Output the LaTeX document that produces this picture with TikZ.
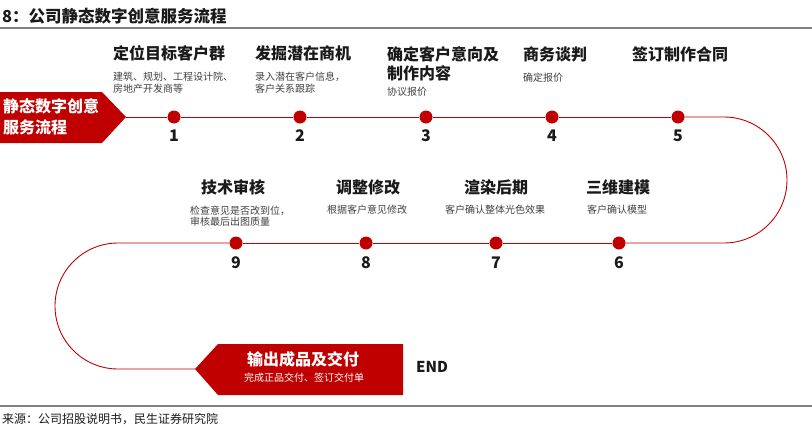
\documentclass[tikz,border=0pt]{standalone}
\usepackage{fontspec}
\setmainfont{Noto Sans CJK SC}
\definecolor{brand}{HTML}{C00000}
\definecolor{ink}{HTML}{1A1A1A}
\definecolor{subink}{HTML}{404040}
\definecolor{rule}{HTML}{808080}
\tikzset{
  dot/.style={circle,fill=brand,minimum size=13pt,inner sep=0pt},
  num/.style={font=\fontsize{16}{18}\selectfont\bfseries,text=ink,inner sep=0pt},
  ttl/.style={font=\fontsize{16}{19}\selectfont\bfseries,text=ink,inner sep=0pt,align=left},
  sub/.style={font=\fontsize{10}{11.5}\selectfont,text=subink,inner sep=0pt,align=left},
  flow/.style={draw=brand,line width=0.9pt},
  banner/.style={fill=brand,draw=none},
}
\begin{document}
\begin{tikzpicture}[x=1pt,y=-1pt]
\useasboundingbox (0,0) rectangle (812,429);
% header
\node[anchor=west,inner sep=0pt,font=\fontsize{16.5}{19}\selectfont\bfseries,text=ink] (title) at (2,16) {8：公司静态数字创意服务流程};
\draw[rule,line width=1.4pt] (0,28) -- (812,28);
% start banner
\fill[banner] (0,92) -- (102,92) -- (126,117) -- (102,143) -- (0,143) -- cycle;
\coordinate (tip1) at (126,117);
\node[anchor=west,inner sep=0pt,align=left,text=white,font=\fontsize{16}{21}\selectfont\bfseries] (start) at (3,117) {静态数字创意\\服务流程};
% end banner
\fill[banner] (195,369) -- (218,344) -- (403,344) -- (403,395) -- (218,395) -- cycle;
\coordinate (tip2) at (195,369);
\node[inner sep=0pt,text=white,font=\fontsize{16}{19}\selectfont\bfseries] (fin) at (303,359) {输出成品及交付};
\node[inner sep=0pt,text=white,font=\fontsize{10}{12}\selectfont] (finsub) at (304,378) {完成正品交付、签订交付单};
\node[anchor=west,inner sep=0pt,font=\fontsize{15}{18}\selectfont\bfseries,text=ink] (endtxt) at (416,367) {END};
% dots
\node[dot] (d1) at (174,117) {};
\node[dot] (d2) at (300,117) {};
\node[dot] (d3) at (426,117) {};
\node[dot] (d4) at (552,117) {};
\node[dot] (d5) at (678,117) {};
\node[dot] (d6) at (619,243) {};
\node[dot] (d7) at (496,243) {};
\node[dot] (d8) at (366,243) {};
\node[dot] (d9) at (236,243) {};
% numbers
\foreach \i/\x in {1/174,2/300,3/426,4/552,5/678} \node[num] (n\i) at (\x,136) {\i};
\foreach \i/\x in {6/619,7/496,8/366,9/236} \node[num] (n\i) at (\x,263) {\i};
% connectors
\draw[flow] (tip1) -- (d1.west);
\draw[flow] (d1.east) -- (d2.west);
\draw[flow] (d2.east) -- (d3.west);
\draw[flow] (d3.east) -- (d4.west);
\draw[flow] (d4.east) -- (d5.west);
\draw[flow] (d5.east) -- (724,117) arc[start angle=90,end angle=-90,radius=63pt] -- (d6.east);
\draw[flow] (d6.west) -- (d7.east);
\draw[flow] (d7.west) -- (d8.east);
\draw[flow] (d8.west) -- (d9.east);
\draw[flow] (d9.west) -- (118,243) arc[start angle=90,end angle=270,radius=63pt] -- (tip2);
% top row texts
\node[ttl,anchor=west] (t1) at (113,53) {定位目标客户群};
\node[sub,anchor=west] (s1) at (113,82.5) {建筑、规划、工程设计院、\\房地产开发商等};
\node[ttl,anchor=west] (t2) at (255,53) {发掘潜在商机};
\node[sub,anchor=west] (s2) at (255,82.5) {录入潜在客户信息，\\客户关系跟踪};
\node[ttl,anchor=west] (t3) at (387,63.5) {确定客户意向及\\制作内容};
\node[sub,anchor=west] (s3) at (387,92) {协议报价};
\node[ttl,anchor=west] (t4) at (523,54) {商务谈判};
\node[sub,anchor=west] (s4) at (523,78) {确定报价};
\node[ttl,anchor=west] (t5) at (632,54) {签订制作合同};
% bottom row texts
\node[ttl] (t9) at (233,187) {技术审核};
\node[sub] (s9) at (240,216) {检查意见是否改到位，\\审核最后出图质量};
\node[ttl] (t8) at (368,187) {调整修改};
\node[sub] (s8) at (367,210) {根据客户意见修改};
\node[ttl] (t7) at (496,187) {渲染后期};
\node[sub] (s7) at (495,210) {客户确认整体光色效果};
\node[ttl] (t6) at (618,187) {三维建模};
\node[sub] (s6) at (617,210) {客户确认模型};
% footer
\draw[rule,line width=1.4pt] (0,406) -- (812,406);
\node[anchor=west,inner sep=0pt,font=\fontsize{12}{14}\selectfont,text=ink] (src) at (2,419) {来源：公司招股说明书，民生证券研究院};
\end{tikzpicture}
\end{document}
